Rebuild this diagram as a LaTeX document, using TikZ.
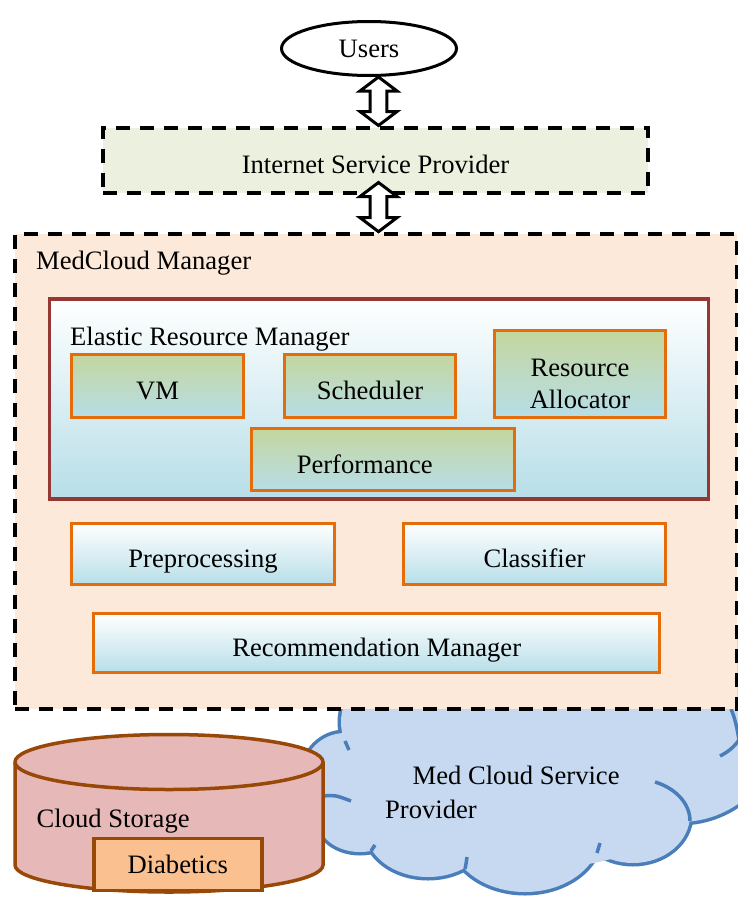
\documentclass[tikz,border=0pt]{standalone}
\usepackage{fontspec}
\setmainfont{Liberation Serif}
\usetikzlibrary{shapes.geometric,calc}
\definecolor{ispfill}{HTML}{EBF1DE}
\definecolor{mgrfill}{HTML}{FDE9D9}
\definecolor{ermborder}{HTML}{953735}
\definecolor{lblue}{HTML}{B7DEE8}
\definecolor{lgreen}{HTML}{C4D69E}
\definecolor{orangeb}{HTML}{E46C0A}
\definecolor{cylfill}{HTML}{E6B9B8}
\definecolor{brownb}{HTML}{984807}
\definecolor{diafill}{HTML}{FAC090}
\definecolor{cloudfill}{HTML}{C6D9F1}
\definecolor{cloudline}{HTML}{4A7EBB}
\newcommand\udarrow[2]{%
  \draw[blockarrow] (#1) -- ($(#1)+(18.5,14)$) -- ($(#1)+(8.3,14)$) -- ($(#2)+(8.3,-14)$)
    -- ($(#2)+(18.5,-14)$) -- (#2) -- ($(#2)+(-18.5,-14)$) -- ($(#2)+(-8.3,-14)$)
    -- ($(#1)+(-8.3,14)$) -- ($(#1)+(-18.5,14)$) -- cycle;}
\begin{document}
\begin{tikzpicture}[x=1pt,y=-1pt,
  font=\fontsize{26.6pt}{32pt}\selectfont,
  box/.style={rectangle, inner sep=0pt, text height=27pt, text depth=0pt},
  lbl/.style={inner sep=0pt, text height=17.6pt, text depth=0pt},
  dashedbox/.style={box, draw=black, line width=4pt, dash pattern=on 14pt off 10pt},
  greenbox/.style={box, draw=orangeb, line width=3pt, top color=lgreen, bottom color=lblue},
  bluebox/.style={box, draw=orangeb, line width=3pt, top color=white, bottom color=lblue},
  blockarrow/.style={draw=black, fill=white, line width=3pt, line join=miter},
  cloudpart/.style={fill=cloudfill, draw=cloudline, line width=7pt},
  stub/.style={draw=cloudline, line width=3.5pt},
  cyl/.style={draw=brownb, line width=3.5pt},
]
\useasboundingbox (0,0) rectangle (738,897);

% ---- cloud (behind everything)
\begin{scope}
\clip (0,0) rectangle (738,897);
\path[cloudpart] (392,722) circle[radius=51];
\path[cloudpart] (345,775) circle[radius=42];
\path[cloudpart] (360,820) ellipse[x radius=42, y radius=32];
\path[cloudpart] (428,830) ellipse[x radius=62, y radius=47];
\path[cloudpart] (525,835) ellipse[x radius=75, y radius=57];
\path[cloudpart] (633,815) ellipse[x radius=57, y radius=48];
\path[cloudpart] (680,720) circle[radius=102];
\fill[cloudfill] (392,722) circle[radius=51];
\fill[cloudfill] (345,775) circle[radius=42];
\fill[cloudfill] (360,820) ellipse[x radius=42, y radius=32];
\fill[cloudfill] (428,830) ellipse[x radius=62, y radius=47];
\fill[cloudfill] (525,835) ellipse[x radius=75, y radius=57];
\fill[cloudfill] (633,815) ellipse[x radius=57, y radius=48];
\fill[cloudfill] (680,720) circle[radius=102];
\fill[cloudfill] (520,790) ellipse[x radius=180, y radius=80];
\fill[cloudfill] (380,700) rectangle (700,760);
% inner arcs of the cloud
\path[stub] (345,741) .. controls (347,745) .. (349,750);
\path[stub] (323,796) .. controls (335,795) .. (351,801);
\path[stub] (371,851) -- (375,845);
\path[stub] (465,869) .. controls (466,864) .. (467,857);
\path[stub] (597,853) .. controls (598,848) .. (600,843);
\path[stub] (690,821) .. controls (690,803) and (675,788) .. (655,782);
\path[stub] (720,756) .. controls (728,752) and (734,747) .. (739,740);
\path[stub] (731,709) .. controls (735,718) and (737,728) .. (739,740);
\end{scope}

% ---- MedCloud Manager
\node[dashedbox, fill=mgrfill, minimum width=721.7pt, minimum height=475.3pt] (mgr) at (376.2,471.3) {};
\node[lbl, anchor=west] (mgrlabel) at (36,260.5) {MedCloud Manager};

\node[box, draw=ermborder, line width=3.3pt, top color=white, bottom color=lblue,
      minimum width=658.8pt, minimum height=200pt] (erm) at (378.9,399) {};
\node[lbl, anchor=west] (ermlabel) at (70,336.5) {Elastic Resource Manager};

\node[greenbox, minimum width=172pt, minimum height=63pt] (vm) at (157.5,386.3) {VM};
\node[greenbox, minimum width=171pt, minimum height=63pt] (sched) at (370,386.3) {Scheduler};
\node[greenbox, minimum width=171.5pt, minimum height=87pt] (ra) at (580.2,374.3) {};
\node[align=center, inner sep=0pt] (ratext) at (580,384) {Resource\\Allocator};
\node[greenbox, minimum width=262.7pt, minimum height=61.4pt] (perf) at (383.2,459.5) {\hspace*{-37pt}Performance};

\node[bluebox, minimum width=263pt, minimum height=61.3pt] (pre) at (203,553.8) {Preprocessing};
\node[bluebox, minimum width=262pt, minimum height=61.3pt] (cls) at (534.5,553.8) {Classifier};
\node[bluebox, minimum width=565.6pt, minimum height=59pt] (rec) at (376.7,643.3) {Recommendation Manager};

% ---- Internet Service Provider and Users
\node[dashedbox, fill=ispfill, minimum width=545pt, minimum height=65pt] (isp) at (375.5,160) {Internet Service Provider};
\node[ellipse, draw=black, fill=white, line width=3pt, inner sep=0pt,
      minimum width=175pt, minimum height=54pt] (users) at (369,48.5) {Users};

% ---- double arrows
\coordinate (ax) at (378.5,0);
\coordinate (ispin) at ([yshift=12pt]isp.south);
\coordinate (a1t) at (users.south -| ax);
\coordinate (a1b) at (isp.north -| ax);
\coordinate (a2t) at (ispin -| ax);
\coordinate (a2b) at (mgr.north -| ax);
\udarrow{a1t}{a1b}
\udarrow{a2t}{a2b}

% ---- Cloud storage cylinder
\path[cyl, fill=cylfill] (15,762) -- (15,865) arc[start angle=180, end angle=0, x radius=154, y radius=27]
   -- (323,762) arc[start angle=0, end angle=-180, x radius=154, y radius=27.5] -- cycle;
\path[cyl] (15,762) arc[start angle=180, end angle=0, x radius=154, y radius=27.5];
\node[lbl, anchor=west] (cs) at (36.5,819) {Cloud Storage};
\node[lbl, draw=brownb, fill=diafill, line width=3.5pt, minimum width=168pt, minimum height=52pt] (dia) at (177.8,864.5) {Diabetics};

% ---- cloud labels
\node[lbl, anchor=west] (mcs1) at (412.5,776) {Med Cloud Service};
\node[lbl, anchor=west] (mcs2) at (385,810) {Provider};
\end{tikzpicture}
\end{document}
